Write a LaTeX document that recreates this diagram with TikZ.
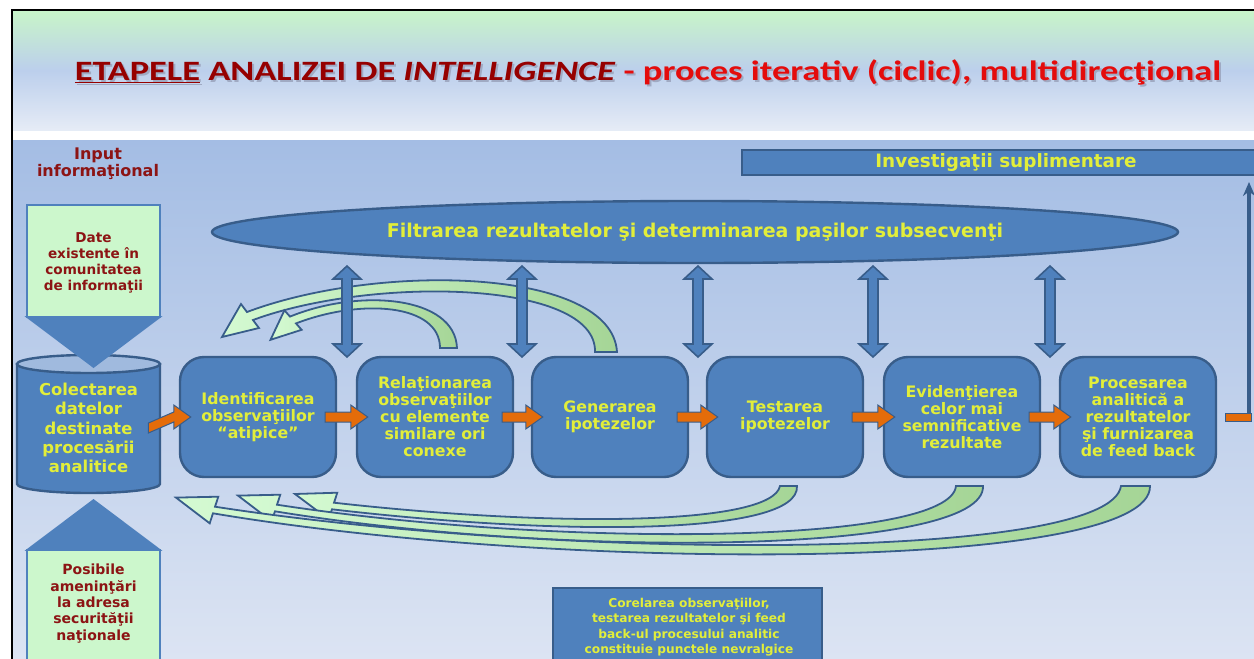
\documentclass[tikz,border=0pt]{standalone}
\usepackage{fontspec}
\usepackage{graphicx}
\setmainfont{DejaVu Sans}
\newfontfamily\carl{Carlito}
\usetikzlibrary{arrows.meta,shapes.geometric,calc}
\definecolor{boxblue}{RGB}{79,129,189}
\definecolor{edgeblue}{RGB}{56,93,138}
\definecolor{cyltop}{RGB}{160,186,222}
\definecolor{ytext}{RGB}{226,238,58}
\definecolor{dred}{RGB}{140,20,20}
\definecolor{tred}{RGB}{150,0,0}
\definecolor{bred}{RGB}{228,12,12}
\definecolor{lgreen}{RGB}{204,247,204}
\definecolor{mint}{RGB}{212,250,210}
\definecolor{midgreen}{RGB}{165,213,150}
\definecolor{orangea}{RGB}{228,108,10}
\definecolor{bgtop}{RGB}{164,189,228}
\definecolor{bgbot}{RGB}{220,228,243}
\definecolor{ttop}{RGB}{200,245,200}
\definecolor{tmid}{RGB}{188,207,236}
\definecolor{tbot}{RGB}{230,236,246}
\definecolor{tshadow}{RGB}{160,170,195}
\newcommand\oarr[2]{\filldraw[oarrow] ($(#1.east)+(-12,-5)$) -- ($(#2.west)+(-5,-5)$) -- ($(#2.west)+(-5,-12)$) -- ($(#2.west)+(12,0)$) -- ($(#2.west)+(-5,12)$) -- ($(#2.west)+(-5,5)$) -- ($(#1.east)+(-12,5)$) -- cycle;}
\newcommand\darr[1]{\filldraw[barrow] (#1,266) -- (#1+14,279) -- (#1+5,279) -- (#1+5,344) -- (#1+14,344) -- (#1,357) -- (#1-14,344) -- (#1-5,344) -- (#1-5,279) -- (#1-14,279) -- cycle;}
\newcommand\titletext[2]{\scalebox{1.3}[1]{\textcolor{#1}{\underline{ETAPELE} ANALIZEI DE \textit{INTELLIGENCE}} \textcolor{#2}{- proces iterativ (ciclic), multidirecţional}}}
\begin{document}
\begin{tikzpicture}[x=0.5pt,y=-0.5pt,
  proc/.style={rectangle, rounded corners=12pt, fill=boxblue, draw=edgeblue, line width=1.2pt,
    minimum width=78pt, minimum height=60pt, inner sep=0pt, align=center, text=ytext,
    font=\fontsize{7.9}{8.5}\selectfont\bfseries},
  ytxt/.style={align=center, text=ytext, inner sep=0pt},
  rtxt/.style={align=center, text=dred, inner sep=0pt},
  gbox/.style={rectangle, fill=lgreen, draw=boxblue, line width=1.2pt, inner sep=0pt},
  tri/.style={fill=boxblue, draw=boxblue, line width=0.8pt},
  oarrow/.style={fill=orangea, draw=edgeblue, line width=0.5pt},
  barrow/.style={fill=boxblue, draw=edgeblue, line width=0.8pt},
  topg/.style={left color=mint, right color=midgreen, draw=edgeblue, line width=0.9pt},
  botg/.style={left color=mint, right color=midgreen, draw=edgeblue, line width=0.9pt},
  ttl/.style={inner sep=0pt, font=\carl\bfseries\fontsize{14}{16}\selectfont}
]
\useasboundingbox (0,0) rectangle (1254,659);
\fill[white] (0,0) rectangle (1254,659);
% title band
\shade[top color=ttop, bottom color=tbot, middle color=tmid] (12,10) rectangle (1254,131);
\fill[white] (12,131) rectangle (1254,140);
\shade[top color=bgtop, bottom color=bgbot] (12,140) rectangle (1254,659);
\draw[black, line width=1.3pt] (12,659) -- (12,10) -- (1254,10);
% title
\node[ttl] (titleshadow) at (650,74) {\titletext{tshadow}{tshadow}};
\node[ttl] (title) at (648,72) {\titletext{tred}{bred}};
% input label
\node[rtxt, font=\fontsize{8}{7.6}\selectfont\bfseries] (inp) at (98,163.5) {Input\\informaţional};
% investigatii box
\node[rectangle, fill=boxblue, draw=edgeblue, line width=1.2pt, minimum width=264pt, minimum height=12.5pt,
  inner sep=0pt, text=ytext, font=\fontsize{9.2}{10}\selectfont\bfseries] (invs) at (1006,162.5) {Investigaţii suplimentare};
% ellipse
\node[ellipse, fill=boxblue, draw=edgeblue, line width=1.2pt, minimum width=483pt, minimum height=31pt,
  inner sep=0pt, text=ytext, font=\fontsize{9.5}{11}\selectfont\bfseries] (filt) at (695,232)
  {Filtrarea rezultatelor şi determinarea paşilor subsecvenţi};
% green top callout
\node[gbox, minimum width=66.5pt, minimum height=56pt] (datebox) at (93.5,261) {};
\node[rtxt, font=\fontsize{6.8}{8}\selectfont\bfseries] (datet) at (93.5,263) {Date\\existente în\\comunitatea\\de informaţii};
% cylinder
\filldraw[fill=boxblue, draw=edgeblue, line width=1.2pt] (17,364) -- (17,484) arc[start angle=180, end angle=0, x radius=71.5, y radius=9] -- (160,364) -- cycle;
\filldraw[fill=cyltop, draw=edgeblue, line width=1.2pt] (88.5,364) ellipse [x radius=71.5, y radius=9];
\filldraw[tri] (27,317) -- (160,317) -- (93.5,367) -- cycle;
\node[ytxt, minimum width=71.5pt, minimum height=60pt, font=\fontsize{8.2}{9.6}\selectfont\bfseries] (cyl) at (88.5,428)
  {Colectarea\\datelor\\destinate\\procesării\\analitice};
% bottom green callout
\node[gbox, minimum width=66.5pt, minimum height=70pt] (posbox) at (93.5,620) {};
\filldraw[tri] (27,550) -- (160,550) -- (93.5,500) -- cycle;
\node[rtxt, font=\fontsize{7}{8.15}\selectfont\bfseries] (post) at (93.5,603.5) {Posibile\\ameninţări\\la adresa\\securităţii\\naţionale};
% process boxes
\node[proc] (b1) at (258,417) {Identificarea\\observaţiilor\\“atipice”};
\node[proc] (b2) at (435,417) {Relaţionarea\\observaţiilor\\cu elemente\\similare ori\\conexe};
\node[proc] (b3) at (610,417) {Generarea\\ipotezelor};
\node[proc] (b4) at (785,417) {Testarea\\ipotezelor};
\node[proc] (b5) at (962,417) {Evidenţierea\\celor mai\\semnificative\\rezultate};
\node[proc] (b6) at (1138,417) {Procesarea\\analitică a\\rezultatelor\\şi furnizarea\\de feed back};
% orange arrows
\oarr{cyl}{b1}
\oarr{b1}{b2}
\oarr{b2}{b3}
\oarr{b3}{b4}
\oarr{b4}{b5}
\oarr{b5}{b6}
% right elbow to Investigatii
\coordinate (rcorner) at (1249,417);
\coordinate (rtop) at (1249,182);
\draw[edgeblue, line width=1.6pt, -{Stealth[length=7pt,width=6pt]}] ($(rcorner)+(0,4)$) -- (rtop);
\filldraw[oarrow] ($(b6.east)+(8,-4)$) rectangle ($(rcorner)+(2,4)$);
% top curved arrows
\shadedraw[topg] (617,352) .. controls (612,268) and (380,262) .. (247,312) -- (241,304) -- (222,337) -- (259,328) -- (253,320) .. controls (372,276) and (597,280) .. (595,352) -- cycle;
\shadedraw[topg] (457,348) .. controls (455,296) and (360,288) .. (290,316.6) -- (284.4,310.3) -- (270.5,339.8) -- (301.6,329.8) -- (296,323.4) .. controls (362,298) and (440,304) .. (440,348) -- cycle;
% double arrows
\darr{347}
\darr{522}
\darr{698}
\darr{873}
\darr{1050}
% bottom curved arrows
\shadedraw[botg] (780,486) .. controls (772,525) and (560,528) .. (334,502.7) -- (337.3,492.7) -- (295,494) -- (328.7,519.3) -- (332,509.3) .. controls (560,536) and (800,536) .. (797,486) -- cycle;
\shadedraw[botg] (956,486) .. controls (950,545) and (560,548) .. (277,504.7) -- (280.3,494.7) -- (238,495.6) -- (271.7,521.3) -- (275,511.3) .. controls (560,558) and (986,555) .. (983,486) -- cycle;
\shadedraw[botg] (1121,486) .. controls (1110,562) and (560,560) .. (215,506.7) -- (218.3,496.7) -- (176,497.6) -- (209.7,523.3) -- (213,513.3) .. controls (560,572) and (1152,572) .. (1150,486) -- cycle;
% bottom box
\node[rectangle, fill=boxblue, draw=edgeblue, line width=1.2pt, minimum width=134.5pt, minimum height=56pt, inner sep=0pt] (corel) at (687.5,644) {};
\node[ytxt, font=\fontsize{6.1}{7.75}\selectfont\bfseries] (corelt) at (689,627) {Corelarea observaţiilor,\\testarea rezultatelor şi feed\\back-ul procesului analitic\\constituie punctele nevralgice};
\end{tikzpicture}
\end{document}
